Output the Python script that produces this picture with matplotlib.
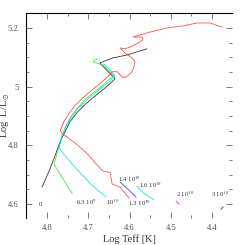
import matplotlib as ml
ml.use("Agg")
import matplotlib.pyplot as plt
from matplotlib.ticker import MultipleLocator

ml.rcParams.update({
    'font.family': ['Liberation Serif', 'DejaVu Serif'],
    'mathtext.fontset': 'stix',
})

# evolutionary tracks (log Teff, log L/Lsun)
teff_0 = [4.812, 4.793, 4.781, 4.768, 4.756, 4.744, 4.727, 4.708, 4.688, 4.664,
          4.647, 4.635, 4.652, 4.672, 4.640, 4.606, 4.558]
lum_0 = [4.658, 4.719, 4.763, 4.814, 4.847, 4.881, 4.912, 4.939, 4.963, 4.990,
         5.010, 5.027, 5.051, 5.081, 5.098, 5.108, 5.129]

teff_63e9 = [4.739, 4.761, 4.783, 4.773, 4.764, 4.754, 4.742, 4.727, 4.710, 4.691,
             4.669, 4.650, 4.638, 4.662, 4.688, 4.679]
lum_63e9 = [4.637, 4.685, 4.736, 4.786, 4.831, 4.868, 4.898, 4.925, 4.953, 4.976,
            5.000, 5.024, 5.037, 5.071, 5.085, 5.095]

teff_1e10 = [4.657, 4.696, 4.732, 4.771, 4.764, 4.752, 4.739, 4.725, 4.708, 4.688,
             4.667, 4.647, 4.635, 4.650, 4.664]
lum_1e10 = [4.624, 4.671, 4.725, 4.790, 4.831, 4.868, 4.898, 4.925, 4.949, 4.973,
            4.997, 5.020, 5.037, 5.061, 5.078]

teff_13e10 = [4.601, 4.623, 4.642, 4.647, 4.664, 4.676, 4.703, 4.737, 4.764, 4.768,
              4.759, 4.747, 4.732, 4.715, 4.696, 4.674, 4.655, 4.642, 4.630, 4.616,
              4.606, 4.594, 4.589, 4.587, 4.594, 4.611, 4.623, 4.611, 4.596, 4.579,
              4.567, 4.570, 4.592, 4.575, 4.550, 4.509, 4.470, 4.436, 4.405, 4.376]
lum_13e10 = [4.620, 4.658, 4.668, 4.708, 4.712, 4.729, 4.773, 4.814, 4.841, 4.851,
             4.881, 4.908, 4.936, 4.959, 4.983, 5.007, 5.031, 5.051, 5.051, 5.031,
             5.034, 5.051, 5.068, 5.085, 5.098, 5.115, 5.132, 5.129, 5.136, 5.149,
             5.159, 5.169, 5.169, 5.176, 5.186, 5.200, 5.207, 5.217, 5.217, 5.203]

teff_14e10 = [4.623, 4.604, 4.584]
lum_14e10 = [4.675, 4.651, 4.624]

teff_16e10 = [4.582, 4.575, 4.570, 4.565, 4.558, 4.550, 4.541]
lum_16e10 = [4.661, 4.650, 4.644, 4.637, 4.631, 4.624, 4.614]

teff_2e10 = [4.487, 4.480]
lum_2e10 = [4.610, 4.600]

teff_3e10 = [4.378, 4.373]
lum_3e10 = [4.583, 4.590]

tracks = [
    (teff_0, lum_0, '#222222'),
    (teff_63e9, lum_63e9, '#33dd33'),
    (teff_1e10, lum_1e10, '#00e0e0'),
    (teff_13e10, lum_13e10, '#ff3c3c'),
    (teff_14e10, lum_14e10, '#3030ff'),
    (teff_16e10, lum_16e10, '#00e0e0'),
    (teff_2e10, lum_2e10, '#ff00ff'),
    (teff_3e10, lum_3e10, '#222222'),
]

# age labels and where they sit
age_labels = ['0', '6.3 10$^9$', '10$^{10}$', '1.3 10$^{10}$', '1.4 10$^{10}$',
              '1.6 10$^{10}$', '2 10$^{10}$', '3 10$^{10}$']
label_teff = [4.817, 4.705, 4.642, 4.575, 4.599, 4.550, 4.465, 4.381]
label_lum = [4.600, 4.607, 4.607, 4.603, 4.685, 4.664, 4.634, 4.634]

fig = plt.figure(figsize=(2.45, 2.45), dpi=100)
ax = fig.add_axes([0.106, 0.110, 0.841, 0.837])

for teff, lum, color in tracks:
    ax.plot(teff, lum, color=color, lw=0.6, alpha=0.9)

for text, x, y in zip(age_labels, label_teff, label_lum):
    ax.text(x, y, text, fontsize=4.8, color='#333333', ha='center', va='center')

ax.set_xlim(4.851, 4.3515)
ax.set_ylim(4.5525, 5.251)

ax.xaxis.set_major_locator(MultipleLocator(0.1))
ax.xaxis.set_minor_locator(MultipleLocator(0.05))
ax.yaxis.set_major_locator(MultipleLocator(0.2))
ax.yaxis.set_minor_locator(MultipleLocator(0.05))
ax.xaxis.set_major_formatter(plt.FuncFormatter(lambda v, p: '%g' % round(v, 2)))
ax.yaxis.set_major_formatter(plt.FuncFormatter(lambda v, p: '%g' % round(v, 2)))

ax.tick_params(which='both', direction='in', top=True, right=True,
               color='#777777', labelcolor='#555555', labelsize=6.2, width=0.7)
ax.tick_params(which='major', length=4.2)
ax.tick_params(which='minor', length=2.5)
ax.tick_params(axis='x', pad=4)
ax.tick_params(axis='y', pad=5.5)

for side in ['bottom', 'right']:
    ax.spines[side].set_visible(False)
for side in ['top', 'left']:
    ax.spines[side].set_linewidth(0.8)

ax.set_xlabel('Log Teff [K]', fontsize=7.5, color='#333333', labelpad=2)
ax.set_ylabel('Log  L/L$_\\odot$', fontsize=7.5, color='#333333')
ax.yaxis.set_label_coords(-0.07, 0.5)

plt.savefig('out.png', dpi=100)
